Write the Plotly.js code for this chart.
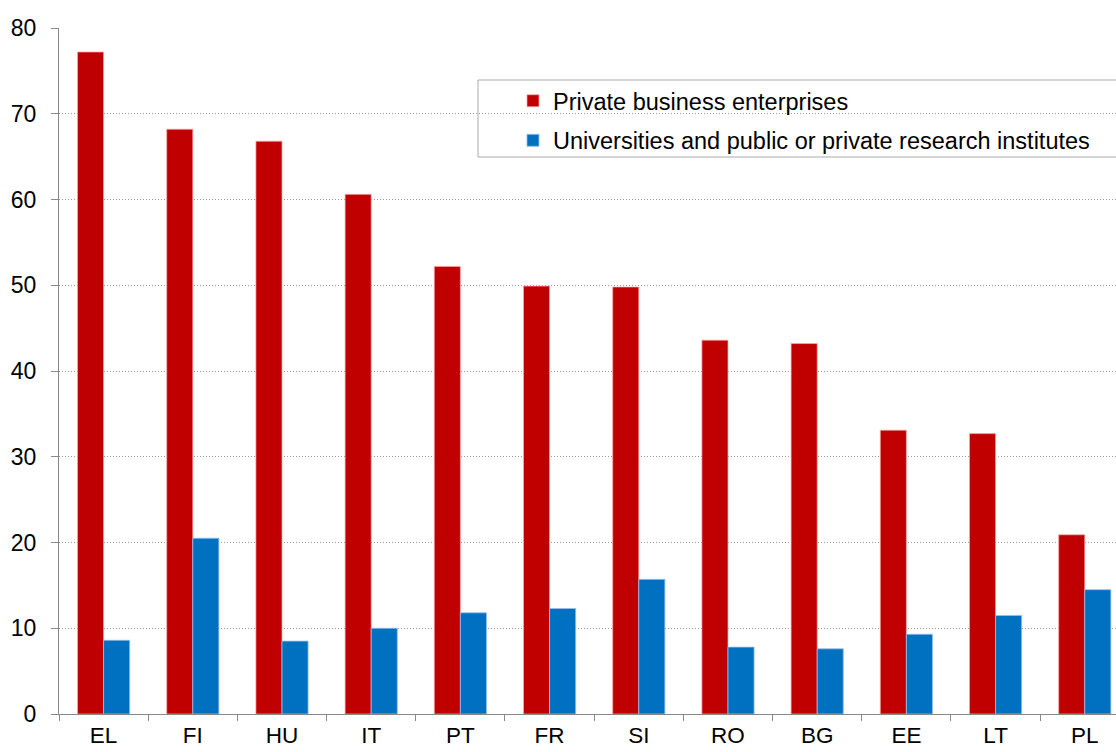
<!DOCTYPE html>
<html>
<head>
<meta charset="utf-8">
<script src="https://cdn.plot.ly/plotly-3.0.1.min.js"></script>
<style>html,body{margin:0;padding:0;background:#fff;}#chart{width:1116px;height:752px;}</style>
</head>
<body>
<div id="chart"></div>
<script>
const countries = ['EL','FI','HU','IT','PT','FR','SI','RO','BG','EE','LT','PL'];
const privateBusiness = [77.2, 68.2, 66.8, 60.6, 52.2, 49.9, 49.8, 43.6, 43.2, 33.1, 32.7, 20.9];
const universities = [8.6, 20.5, 8.5, 10.0, 11.8, 12.3, 15.7, 7.8, 7.6, 9.3, 11.5, 14.5];
const yTicks = [0, 10, 20, 30, 40, 50, 60, 70, 80];

const family = 'Liberation Sans, Arial, sans-serif';
const axisFont = {family: family, size: 23, color: '#000'};
const xFont = {family: family, size: 22.5, color: '#000'};

const traces = [
  {type: 'bar', name: 'Private business enterprises', x: countries, y: privateBusiness,
   legendgroup: 'a',
   marker: {color: '#C00000', line: {color: 'rgba(255,170,170,0.7)', width: 1}}},
  {type: 'bar', name: 'Universities and public or private research institutes', x: countries, y: universities,
   legendgroup: 'b',
   marker: {color: '#0070C0', line: {color: 'rgba(150,190,240,0.8)', width: 1}}}
];

const layout = {
  width: 1116, height: 752,
  margin: {l: 59, r: 0, t: 28, b: 38},
  paper_bgcolor: '#fff', plot_bgcolor: '#fff',
  font: axisFont,
  barmode: 'group', bargap: 0.415, bargroupgap: 0,
  showlegend: true,
  legend: {
    x: 0.4295, y: 0.9257, xanchor: 'left', yanchor: 'top',
    bgcolor: 'rgba(0,0,0,0)', borderwidth: 0,
    traceorder: 'grouped', tracegroupgap: 6,
    font: {family: family, size: 23.5, color: '#000'}
  },
  shapes: [{type: 'rect', xref: 'paper', yref: 'paper', x0: (478-59)/1057, x1: 1.02,
            y0: (714-157)/686, y1: (714-80)/686, line: {color: '#aaa', width: 1}, fillcolor: 'rgba(255,255,255,1)', layer: 'below'}],
  xaxis: {
    type: 'category', range: [-0.5, 11.35],
    showline: true, linecolor: '#888', linewidth: 1,
    ticks: 'outside', tickson: 'boundaries', ticklen: 6, tickcolor: '#888',
    ticklabelstandoff: 1,
    showgrid: false, tickfont: xFont, fixedrange: true
  },
  yaxis: {
    range: [0, 80], tickvals: yTicks, ticktext: yTicks.map(String),
    showline: true, linecolor: '#888', linewidth: 1,
    ticks: 'outside', ticklen: 7, tickcolor: '#888',
    ticklabelstandoff: 10,
    showgrid: true, gridcolor: '#999', griddash: '1px,2px', gridwidth: 1,
    zeroline: false, tickfont: axisFont
  }
};

Plotly.newPlot('chart', traces, layout, {displayModeBar: false, staticPlot: true});
</script>
</body>
</html>
